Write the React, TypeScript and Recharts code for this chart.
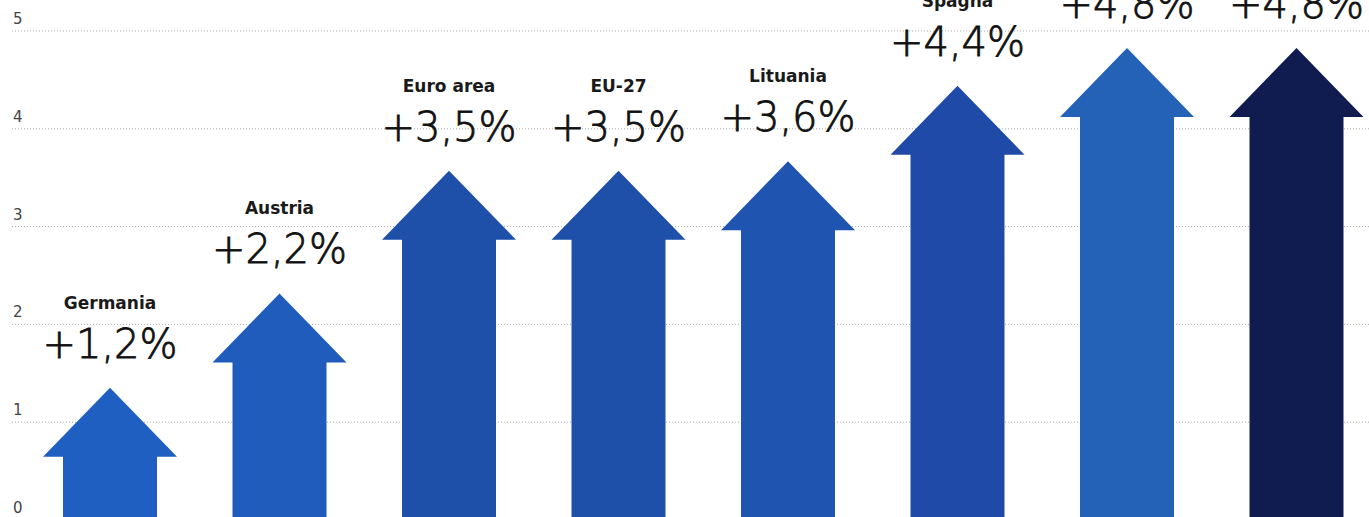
import React from 'react';
import { BarChart, Bar, XAxis, YAxis, CartesianGrid, LabelList } from 'recharts';

const categories = ['Germania', 'Austria', 'Euro area', 'EU-27', 'Lituania', 'Spagna', '', ''];
const growth = [1.2, 2.2, 3.5, 3.5, 3.6, 4.4, 4.8, 4.8];
const arrowColors = ['#1f5fc2', '#1f5cbc', '#1e50aa', '#1e50aa', '#1f55b0', '#1f4aa8', '#2462b8', '#101c50'];
const yTicks = [0, 1, 2, 3, 4, 5];

const data = categories.map((c, i) => ({ key: `c${i}`, name: c, value: growth[i], color: arrowColors[i] }));

const fmt = (v: number) => `+${v.toFixed(1).replace('.', ',')}%`;

const Arrow = (props: any) => {
  const { x, y, width, height, index, background } = props;
  const cx = x + width / 2;
  const shaftHalf = width / 2;
  const headHalf = width / 2 + 20;
  const headH = 69;
  const bgBottom = background ? background.y + background.height : 0;
  const bottom = Math.max(y + height + 30, bgBottom);
  const pts = [
    [cx, y],
    [cx + headHalf, y + headH],
    [cx + shaftHalf, y + headH],
    [cx + shaftHalf, bottom],
    [cx - shaftHalf, bottom],
    [cx - shaftHalf, y + headH],
    [cx - headHalf, y + headH],
  ]
    .map((p) => p.join(','))
    .join(' ');
  return <polygon points={pts} fill={arrowColors[index]} />;
};

const ArrowLabel = (props: any) => {
  const { x, y, width, index, value } = props;
  const cx = x + width / 2;
  return (
    <g>
      <text
        x={cx}
        y={y - 79}
        textAnchor="middle"
        fontFamily="DejaVu Sans"
        fontWeight={700}
        fontSize={17}
        fill="#1a1a1a"
      >
        {categories[index]}
      </text>
      <text
        x={cx}
        y={y - 30}
        textAnchor="middle"
        fontFamily="DejaVu Sans"
        fontWeight={300}
        fontSize={40}
        fill="#111"
        stroke="#111"
        strokeWidth={0.8}
      >
        {fmt(Number(value))}
      </text>
    </g>
  );
};

const YTick = (props: any) => {
  const { y, payload } = props;
  return (
    <text x={13} y={y - 7} textAnchor="start" fontFamily="DejaVu Sans" fontSize={15} fill="#444">
      {payload.value}
    </text>
  );
};

export default function App() {
  return (
    <div style={{ position: 'fixed', left: 0, top: 0, width: 1369, height: 517, overflow: 'hidden', background: '#fff' }}>
      <BarChart
        width={1381}
        height={540}
        data={data}
        margin={{ top: 31, right: 0, bottom: 20, left: 0 }}
        barSize={94}
      >
        <CartesianGrid vertical={false} stroke="#aaaaaa" strokeDasharray="1 2" />
        <XAxis dataKey="key" hide padding={{ left: 13, right: 0 }} />
        <YAxis
          type="number"
          domain={[0, 5]}
          allowDataOverflow
          ticks={yTicks}
          interval={0}
          width={12}
          axisLine={false}
          tickLine={false}
          tick={<YTick />}
        />
        <YAxis yAxisId="arrows" type="number" hide domain={[-0.2, 4.98]} allowDataOverflow />
        <Bar yAxisId="arrows" dataKey="value" shape={<Arrow />} isAnimationActive={false}>
          <LabelList dataKey="value" content={<ArrowLabel />} />
        </Bar>
      </BarChart>
    </div>
  );
}
